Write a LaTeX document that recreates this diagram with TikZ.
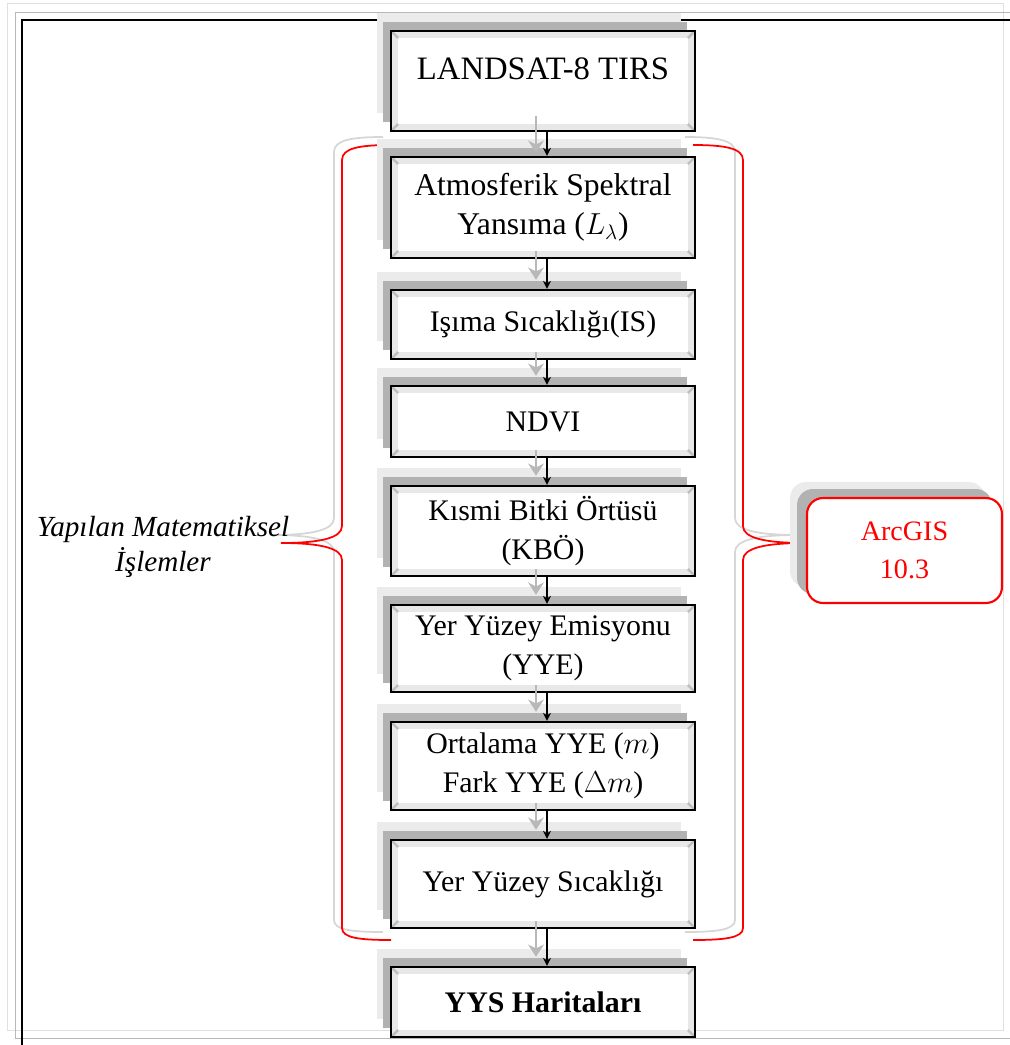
\documentclass[tikz,border=0pt]{standalone}
\usepackage{fontspec}
\setmainfont{Liberation Serif}
\usetikzlibrary{arrows.meta, shadows}

\tikzset{
  box/.style={draw, line width=1.4pt, fill=white, minimum width=6.08cm, inner sep=0pt,
    align=center, font=\fontsize{17}{22}\selectfont,
    drop shadow={shadow xshift=-0.28cm, shadow yshift=0.36cm, fill=black!8, opacity=1},
    drop shadow={shadow xshift=-0.16cm, shadow yshift=0.18cm, fill=black!30, opacity=1},
    path picture={
      \fill[black!9] (path picture bounding box.south west) rectangle (path picture bounding box.north east);
      \fill[white] ([shift={(0.14cm,0.14cm)}]path picture bounding box.south west) rectangle ([shift={(-0.14cm,-0.14cm)}]path picture bounding box.north east);
      \draw[black!25] (path picture bounding box.north west) -- ++(0.14cm,-0.14cm);
      \draw[black!25] (path picture bounding box.north east) -- ++(-0.14cm,-0.14cm);
      \draw[black!25] (path picture bounding box.south west) -- ++(0.14cm,0.14cm);
      \draw[black!25] (path picture bounding box.south east) -- ++(-0.14cm,0.14cm);
    }},
  arcbox/.style={draw=red, line width=1.2pt, fill=white, rounded corners=0.32cm,
    minimum width=3.9cm, minimum height=2.1cm, align=center, text=red,
    font=\fontsize{16}{21.5}\selectfont,
    drop shadow={shadow xshift=-0.34cm, shadow yshift=0.32cm, fill=black!8, opacity=1},
    drop shadow={shadow xshift=-0.2cm, shadow yshift=0.18cm, fill=black!30, opacity=1}},
  lbl/.style={align=center, font=\itshape\fontsize{16.6}{20}\selectfont},
  arr/.style={-{Stealth[length=4.5pt,width=4.5pt]}, line width=0.9pt},
  sarr/.style={-{Stealth[length=7pt,width=9pt]}, line width=1.4pt, black!28},
  brace/.style={red, line width=1pt},
  braceshadow/.style={black!16, line width=1pt}
}

\begin{document}
\begin{tikzpicture}[x=0.02cm, y=-0.02cm]
\useasboundingbox (0,0) rectangle (1010,1045);
\def\leftbrace{(391,145) .. controls (360,145) and (342,148) .. (342,160) -- (342,526)
  .. controls (342,538) and (320,543) .. (281,543) .. controls (320,543) and (342,548) .. (342,560)
  -- (342,928) .. controls (342,938) and (360,940) .. (391,940)}
\def\rightbrace{(693,145) .. controls (724,145) and (743,148) .. (743,160) -- (743,526)
  .. controls (743,538) and (765,543) .. (805,543) .. controls (765,543) and (743,548) .. (743,560)
  -- (743,928) .. controls (743,938) and (724,940) .. (693,940)}

    % frame
    \draw[black!12] (7,3) rectangle (1003,1030);
    \draw[black!28] (15,12) rectangle (1014,1038);
    \draw[line width=1.1pt] (22,1045) -- (22,20) -- (1010,20);

    % braces
    \draw[braceshadow, shift={(-8,-8)}] \leftbrace;
    \draw[braceshadow, shift={(-8,-8)}] \rightbrace;
    \draw[brace] \leftbrace;
    \draw[brace] \rightbrace;

    % steps
    \node[box, minimum height=2cm, text depth=14pt, font=\fontsize{18.6}{22}\selectfont] (land) at (543,81) {LANDSAT-8 TIRS};
    \node[box, minimum height=2.02cm, font=\fontsize{18}{22}\selectfont] (atm) at (543,207.5) {Atmosferik Spektral\\Yansıma ($L_{\lambda}$)};
    \node[box, minimum height=1.38cm] (isi) at (543,324.5) {Işıma Sıcaklığı(IS)};
    \node[box, minimum height=1.42cm] (ndvi) at (543,421.5) {NDVI};
    \node[box, minimum height=1.8cm] (kbo) at (543,531) {Kısmi Bitki Örtüsü\\(KBÖ)};
    \node[box, minimum height=1.74cm] (yye) at (543,648.5) {Yer Yüzey Emisyonu\\(YYE)};
    \node[box, minimum height=1.76cm] (ort) at (543,766) {Ortalama YYE ($m$)\\Fark YYE ($\Delta m$)};
    \node[box, minimum height=1.76cm] (yys) at (543,884) {Yer Yüzey Sıcaklığı};
    \node[box, minimum height=1.4cm, font=\bfseries\fontsize{17}{22}\selectfont] (map) at (543,1002) {YYS Haritaları};

    \node[arcbox] (arc) at (904.5,550.5) {ArcGIS\\10.3};
    \node[lbl] (yml) at (163,547) {Yapılan Matematiksel\\İşlemler};

    % arrows
    \draw[sarr] ([shift={(-7,-16)}]land.south) -- ([shift={(-7,-3)}]atm.north);
    \draw[sarr] ([shift={(-7,-8)}]atm.south) -- ([shift={(-7,-9)}]isi.north);
    \draw[sarr] ([shift={(-7,-8)}]isi.south) -- ([shift={(-7,-9)}]ndvi.north);
    \draw[sarr] ([shift={(-7,-8)}]ndvi.south) -- ([shift={(-7,-9)}]kbo.north);
    \draw[sarr] ([shift={(-7,-8)}]kbo.south) -- ([shift={(-7,-9)}]yye.north);
    \draw[sarr] ([shift={(-7,-8)}]yye.south) -- ([shift={(-7,-9)}]ort.north);
    \draw[sarr] ([shift={(-7,-8)}]ort.south) -- ([shift={(-7,-9)}]yys.north);
    \draw[sarr] ([shift={(-7,-8)}]yys.south) -- ([shift={(-7,-9)}]map.north);

    \draw[arr] ([xshift=0.08cm]land.south) -- ([xshift=0.08cm]atm.north);
    \draw[arr] ([xshift=0.08cm]atm.south) -- ([xshift=0.08cm]isi.north);
    \draw[arr] ([xshift=0.08cm]isi.south) -- ([xshift=0.08cm]ndvi.north);
    \draw[arr] ([xshift=0.08cm]ndvi.south) -- ([xshift=0.08cm]kbo.north);
    \draw[arr] ([xshift=0.08cm]kbo.south) -- ([xshift=0.08cm]yye.north);
    \draw[arr] ([xshift=0.08cm]yye.south) -- ([xshift=0.08cm]ort.north);
    \draw[arr] ([xshift=0.08cm]ort.south) -- ([xshift=0.08cm]yys.north);
    \draw[arr] ([xshift=0.08cm]yys.south) -- ([xshift=0.08cm]map.north);
\end{tikzpicture}
\end{document}
